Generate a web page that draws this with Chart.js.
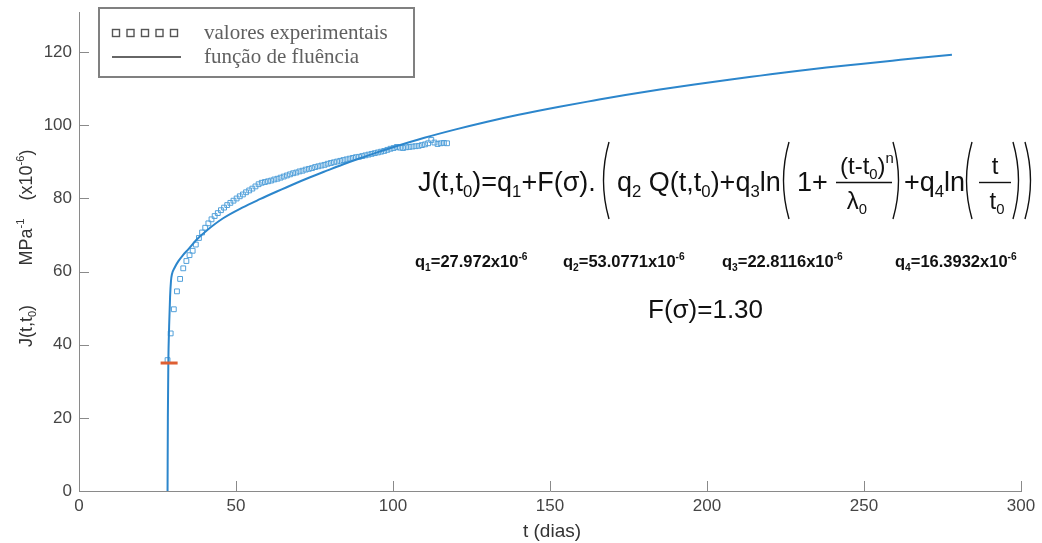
<!DOCTYPE html>
<html>
<head>
<meta charset="utf-8">
<script src="https://cdn.jsdelivr.net/npm/chart.js@4.4.1/dist/chart.umd.min.js"></script>
<style>
  html, body { margin: 0; padding: 0; background: #ffffff; }
  #wrap { width: 1042px; height: 543px; }
</style>
</head>
<body>
<div id="wrap"><canvas id="c" width="1042" height="543"></canvas></div>
<script>
// Experimental creep compliance (t in days, J in 1e-6 / MPa)
const expT = [28.2, 29.2, 30.2, 31.2, 32.2, 33.2, 34.2, 35.2, 36.2, 37.2,
  38.2, 39.2, 40.2, 41.2, 42.2, 43.2, 44.2, 45.2, 46.2, 47.2,
  48.2, 49.2, 50.2, 51.2, 52.2, 53.2, 54.2, 55.2, 56.2, 57.2,
  58.2, 59.2, 60.2, 61.2, 62.2, 63.2, 64.2, 65.2, 66.2, 67.2,
  68.2, 69.2, 70.2, 71.2, 72.2, 73.2, 74.2, 75.2, 76.2, 77.2,
  78.2, 79.2, 80.2, 81.2, 82.2, 83.2, 84.2, 85.2, 86.2, 87.2,
  88.2, 89.2, 90.2, 91.2, 92.2, 93.2, 94.2, 95.2, 96.2, 97.2,
  98.2, 99.2, 100.2, 101.2, 102.2, 103.2, 104.2, 105.2, 106.2, 107.2,
  108.2, 109.2, 110.2, 111.2, 112.2, 113.2, 114.2, 115.2, 116.2, 117.2];
const expJ = [35.8, 43.1, 49.7, 54.6, 58.0, 60.9, 62.9, 64.5, 65.7, 67.4,
  69.2, 70.7, 72.0, 73.2, 74.3, 75.2, 76.0, 76.8, 77.5, 78.2,
  78.8, 79.4, 80.0, 80.6, 81.1, 81.7, 82.2, 82.7, 83.3, 83.9,
  84.3, 84.5, 84.7, 84.9, 85.2, 85.4, 85.7, 86.0, 86.3, 86.6,
  86.9, 87.1, 87.4, 87.6, 87.9, 88.1, 88.3, 88.6, 88.8, 89.0,
  89.2, 89.5, 89.7, 89.9, 90.1, 90.3, 90.5, 90.7, 90.9, 91.1,
  91.3, 91.4, 91.6, 91.8, 92.0, 92.2, 92.4, 92.6, 92.8, 93.0,
  93.3, 93.6, 93.8, 94.1, 93.9, 93.8, 94.0, 94.1, 94.2, 94.3,
  94.4, 94.6, 94.8, 95.1, 96.0, 95.3, 94.9, 95.1, 95.2, 95.1];

// Fitted creep function J(t,t0)
const fitT = [28.2, 28.3, 28.45, 28.7, 29.0, 29.3, 29.6, 30.4, 31.6, 33.0,
  34.8, 37.5, 40.6, 45.9, 52.0, 57.6, 63.0, 68.3, 73.6, 78.9,
  84.0, 89.5, 95.0, 100, 110, 120, 130, 140, 153, 164,
  174, 185, 196, 207, 217, 228, 238, 249, 259, 268, 278];
const fitJ = [0, 20, 35, 45, 53, 57.5, 59.3, 61.0, 62.8, 64.4,
  66.1, 68.8, 71.2, 74.6, 77.5, 79.8, 81.9, 83.9, 85.8, 87.6,
  89.3, 91.0, 92.6, 94.0, 96.6, 98.9, 101.0, 102.9, 105.1, 106.8,
  108.3, 109.8, 111.2, 112.5, 113.6, 114.8, 115.8, 116.8, 117.7, 118.5, 119.3];

// Instantaneous compliance marker
const markT = [28.7];
const markJ = [35];

const xTicks = [0, 50, 100, 150, 200, 250, 300];
const yTicks = [0, 20, 40, 60, 80, 100, 120];

const params = ['27.972', '53.0771', '22.8116', '16.3932'];
const fSigma = '1.30';

const BLUE = '#2c86cc';
const BLUE_PT = '#52a0da';
const ORANGE = '#de5f33';
const AXIS_GREY = '#8a8a8a';
const TICK_TXT = '#454545';
const SANS = '"Liberation Sans", Arial, sans-serif';
const SERIF = '"Liberation Serif", "Times New Roman", serif';

const zip = (xs, ys) => xs.map((v, i) => ({ x: v, y: ys[i] }));

// Draw a run of text pieces (normal / sub / sup) starting at x, baseline y
function typeset(ctx, x, y, pieces, size, weight) {
  let cx = x;
  pieces.forEach(p => {
    const [txt, kind] = typeof p === 'string' ? [p, 'n'] : p;
    let s = size, dy = 0;
    if (kind === 'sub') { s = size * 0.62; dy = size * 0.22; }
    if (kind === 'sup') { s = size * 0.62; dy = -size * 0.45; }
    ctx.font = (weight || 'normal') + ' ' + s + 'px ' + SANS;
    ctx.fillText(txt, cx, y + dy);
    cx += ctx.measureText(txt).width;
  });
  return cx;
}
function measureRun(ctx, pieces, size, weight) {
  let w = 0;
  pieces.forEach(p => {
    const [txt, kind] = typeof p === 'string' ? [p, 'n'] : p;
    const s = kind === 'n' ? size : size * 0.62;
    ctx.font = (weight || 'normal') + ' ' + s + 'px ' + SANS;
    w += ctx.measureText(txt).width;
  });
  return w;
}
function bigParen(ctx, x, top, bottom, open) {
  const w = 8;
  ctx.beginPath();
  if (open) {
    ctx.moveTo(x + w, top);
    ctx.quadraticCurveTo(x - 3, (top + bottom) / 2, x + w, bottom);
  } else {
    ctx.moveTo(x, top);
    ctx.quadraticCurveTo(x + w + 3, (top + bottom) / 2, x, bottom);
  }
  ctx.stroke();
}

const decor = {
  id: 'decor',
  beforeDatasetsDraw(chart) {
    const { ctx, chartArea: a, scales: { x, y } } = chart;
    ctx.save();
    ctx.strokeStyle = AXIS_GREY;
    ctx.lineWidth = 1;
    xTicks.forEach(v => {
      const px = Math.round(x.getPixelForValue(v)) + 0.5;
      ctx.beginPath(); ctx.moveTo(px, a.bottom); ctx.lineTo(px, a.bottom - 10); ctx.stroke();
    });
    yTicks.forEach(v => {
      const py = Math.round(y.getPixelForValue(v)) + 0.5;
      ctx.beginPath(); ctx.moveTo(a.left, py); ctx.lineTo(a.left + 10, py); ctx.stroke();
    });
    ctx.restore();
  },
  afterDraw(chart) {
    const { ctx } = chart;
    ctx.save();
    ctx.textBaseline = 'alphabetic';

    // Axis titles
    ctx.fillStyle = '#333333';
    ctx.font = '19px ' + SANS;
    ctx.textAlign = 'center';
    ctx.fillText('t (dias)', 552, 537);
    ctx.textAlign = 'left';
    ctx.save();
    ctx.translate(32, 0);
    ctx.rotate(-Math.PI / 2);
    const yt = [
      { p: ['J(t,t', ['0', 'sub'], ')'], c: 326 },
      { p: ['MPa', ['-1', 'sup']], c: 242 },
      { p: ['(x10', ['-6', 'sup'], ')'], c: 175 }
    ];
    yt.forEach(seg => {
      const w = measureRun(ctx, seg.p, 18);
      typeset(ctx, -seg.c - w / 2, 0, seg.p, 18);
    });
    ctx.restore();

    // Legend
    ctx.strokeStyle = '#808080';
    ctx.lineWidth = 2;
    ctx.strokeRect(99, 8, 315, 69);
    ctx.strokeStyle = '#555555';
    ctx.lineWidth = 1.4;
    for (let i = 0; i < 5; i++) {
      ctx.strokeRect(112.5 + i * 14.5, 29.5, 7, 7);
    }
    ctx.strokeStyle = '#666666';
    ctx.lineWidth = 2;
    ctx.beginPath(); ctx.moveTo(112, 57); ctx.lineTo(181, 57); ctx.stroke();
    ctx.fillStyle = '#606060';
    ctx.font = '21px ' + SERIF;
    ctx.fillText('valores experimentais', 204, 39);
    ctx.fillText('função de fluência', 204, 63);

    // Creep function expression
    ctx.fillStyle = '#111111';
    ctx.strokeStyle = '#111111';
    ctx.lineWidth = 1.4;
    const S = 27, F = 24, base = 191;
    typeset(ctx, 418, base, ['J(t,t', ['0', 'sub'], ')=q', ['1', 'sub'], '+F(σ).'], S);
    bigParen(ctx, 601, 142, 219, true);
    typeset(ctx, 617, base, ['q', ['2', 'sub'], ' Q(t,t', ['0', 'sub'], ')+q', ['3', 'sub'], 'ln'], S);
    bigParen(ctx, 781, 142, 219, true);
    typeset(ctx, 797, base, ['1+'], S);
    // fraction (t-t0)^n / λ0
    const num1 = ['(t-t', ['0', 'sub'], ')', ['n', 'sup']];
    typeset(ctx, 840, 174, num1, F);
    ctx.beginPath(); ctx.moveTo(836, 182.5); ctx.lineTo(892, 182.5); ctx.stroke();
    const den1 = ['λ', ['0', 'sub']];
    typeset(ctx, 857 - measureRun(ctx, den1, F) / 2, 209, den1, F);
    bigParen(ctx, 893, 142, 219, false);
    typeset(ctx, 904, base, ['+q', ['4', 'sub'], 'ln'], S);
    bigParen(ctx, 964, 142, 219, true);
    // fraction t / t0
    typeset(ctx, 995 - measureRun(ctx, ['t'], F) / 2, 174, ['t'], F);
    ctx.beginPath(); ctx.moveTo(979, 182.5); ctx.lineTo(1011, 182.5); ctx.stroke();
    const den2 = ['t', ['0', 'sub']];
    typeset(ctx, 997 - measureRun(ctx, den2, F) / 2, 209, den2, F);
    bigParen(ctx, 1013, 142, 219, false);
    bigParen(ctx, 1025, 142, 219, false);

    // Parameter values
    const qx = [415, 563, 722, 895];
    params.forEach((v, i) => {
      typeset(ctx, qx[i], 267, ['q', [String(i + 1), 'sub'], '=' + v + 'x10', ['-6', 'sup']], 16.5, 'bold');
    });
    typeset(ctx, 648, 318, ['F(σ)=' + fSigma], 26);
    ctx.restore();
  }
};

new Chart(document.getElementById('c'), {
  type: 'scatter',
  data: {
    datasets: [
      {
        label: 'J(t0)',
        data: zip(markT, markJ),
        pointStyle: 'line',
        pointRadius: 8.5,
        pointBorderWidth: 3,
        borderColor: ORANGE,
        backgroundColor: ORANGE,
        showLine: false
      },
      {
        label: 'função de fluência',
        data: zip(fitT, fitJ),
        showLine: true,
        borderColor: BLUE,
        borderWidth: 2,
        pointRadius: 0,
        cubicInterpolationMode: 'monotone',
        fill: false
      },
      {
        label: 'valores experimentais',
        data: zip(expT, expJ),
        pointStyle: 'rect',
        pointRadius: 3.4,
        pointBorderWidth: 1,
        borderColor: BLUE_PT,
        backgroundColor: 'rgba(0,0,0,0)',
        showLine: false
      }
    ]
  },
  options: {
    responsive: false,
    animation: false,
    layout: { padding: { top: 12, right: 21, left: 0, bottom: 0 } },
    plugins: { legend: { display: false }, tooltip: { enabled: false } },
    scales: {
      x: {
        type: 'linear',
        min: 0, max: 300,
        grid: { display: false, drawTicks: false, tickLength: 0 },
        border: { display: true, color: AXIS_GREY, width: 1 },
        afterBuildTicks: s => { s.ticks = xTicks.map(v => ({ value: v })); },
        afterFit: s => { s.height = 52; s.paddingLeft = 0; s.paddingRight = 0; },
        ticks: { color: TICK_TXT, font: { family: SANS, size: 17 }, padding: 5, maxRotation: 0 }
      },
      y: {
        type: 'linear',
        min: 0, max: 131,
        grid: { display: false, drawTicks: false, tickLength: 0 },
        border: { display: true, color: AXIS_GREY, width: 1 },
        afterBuildTicks: s => { s.ticks = yTicks.map(v => ({ value: v })); },
        afterFit: s => { s.width = 79; s.paddingTop = 0; s.paddingBottom = 0; },
        ticks: { color: TICK_TXT, font: { family: SANS, size: 17 }, padding: 7 }
      }
    }
  },
  plugins: [decor]
});
</script>
</body>
</html>
